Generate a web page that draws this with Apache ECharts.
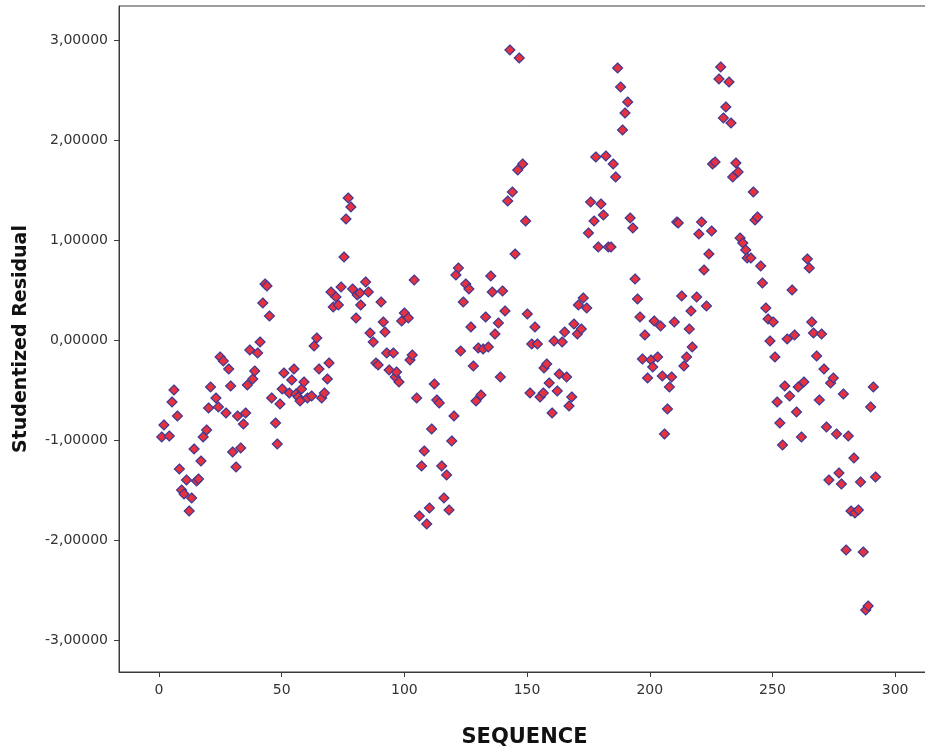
<!DOCTYPE html>
<html>
<head>
<meta charset="utf-8">
<script src="https://cdn.jsdelivr.net/npm/echarts@6/dist/echarts.min.js"></script>
<style>
  html, body { margin: 0; padding: 0; background: #fff; }
  #chart { width: 925px; height: 747px; }
</style>
</head>
<body>
<div id="chart"></div>
<script>
// values
const sequence = [
  1.1, 2, 4.2, 5.3, 6.1, 7.5, 8.3, 9.2, 10.2, 11.2, 12.3, 13.3, 14.3, 15.3, 16.1, 17.1, 18, 19.4, 20.2, 21,
  23.2, 24.2, 24.9, 26.2, 27.3, 28.4, 29.2, 30, 31.4, 32, 33.3, 34.4, 35.3, 36, 37, 38.2, 39, 40.2, 41.2, 42.3,
  43.2, 44, 45, 45.9, 47.5, 48.2, 49.3, 50.2, 50.9, 53.1, 54.1, 55, 55.8, 56.7, 57.5, 58.1, 59.1, 60.5, 62.2, 63.2,
  64.3, 65.2, 66.3, 67.4, 68.6, 69.3, 70.1, 71, 72.1, 73.1, 74.2, 75.4, 76.2, 77.1, 78.2, 78.9, 80.3, 80.8, 81.9, 82.2,
  84.2, 85.3, 86, 87.3, 88.4, 89.3, 90.5, 91.4, 92.1, 92.8, 93.8, 95.5, 96.3, 96.8, 97.8, 98.9, 100, 101.6, 102.3, 103.2,
  104, 105, 106.1, 107, 108.1, 109.1, 110.2, 111.1, 112.2, 113.2, 114.2, 115.2, 116.1, 117.2, 118.2, 119.3, 120.2, 121, 122, 122.9,
  124, 125, 126.3, 127.1, 128.1, 129.2, 130.1, 131.2, 132.1, 133.1, 134.2, 135.2, 135.8, 136.9, 138.3, 139.1, 140, 141, 142.1, 143,
  144, 145.1, 146.2, 146.8, 148.2, 149.4, 150.1, 151.2, 151.9, 153.2, 154.2, 155.3, 156.6, 156.9, 158, 159, 160.2, 161, 162.3, 163.1,
  164.3, 165.3, 166.1, 167.1, 168.2, 169.1, 170.5, 170.9, 172.1, 172.9, 174.3, 175, 175.9, 177.3, 178, 179, 180.1, 181.1, 182.1, 183.1,
  184.2, 185.1, 186.1, 186.9, 188.1, 188.9, 189.9, 191, 192, 193.1, 194, 195, 196, 197, 198, 199.1, 200.5, 201.2, 201.8, 203.2,
  204.4, 205.1, 206, 207.2, 208, 208.9, 210, 211, 211.6, 213, 213.9, 215, 216.1, 216.8, 217.3, 219.1, 220, 221.1, 222.1, 223.1,
  224.1, 225.2, 225.6, 226.6, 228.2, 228.9, 230, 231, 232.3, 233.1, 233.8, 235.1, 236, 236.8, 237.9, 239.1, 239.7, 241.2, 242.2, 242.9,
  243.9, 245.2, 245.9, 247.3, 248.2, 249, 250.3, 251, 251.9, 253, 254.1, 255, 256, 257, 258, 259, 259.8, 260.5, 261.8, 262.8,
  264.2, 265, 266, 266.7, 268, 269.1, 270, 271, 272, 273, 273.7, 274.8, 276.1, 277.1, 278.1, 278.9, 280, 280.9, 282, 283.2,
  283.6, 285, 285.9, 287, 288, 289, 290, 291.1, 292
];
const residual = [
  -0.97, -0.85, -0.96, -0.62, -0.50, -0.76, -1.29, -1.50, -1.54, -1.40, -1.71, -1.58, -1.09, -1.41, -1.39, -1.21, -0.97, -0.90, -0.68, -0.47,
  -0.58, -0.67, -0.17, -0.21, -0.73, -0.29, -0.46, -1.12, -1.27, -0.76, -1.08, -0.84, -0.73, -0.45, -0.10, -0.39, -0.31, -0.13, -0.02, 0.37,
  0.56, 0.54, 0.24, -0.58, -0.83, -1.04, -0.64, -0.49, -0.33, -0.53, -0.40, -0.29, -0.54, -0.57, -0.61, -0.49, -0.42, -0.58, -0.56, -0.06,
  0.02, -0.29, -0.58, -0.53, -0.39, -0.23, 0.48, 0.33, 0.43, 0.35, 0.53, 0.83, 1.21, 1.42, 1.33, 0.51, 0.22, 0.45, 0.47, 0.35,
  0.58, 0.48, 0.07, -0.02, -0.23, -0.25, 0.38, 0.18, 0.08, -0.13, -0.30, -0.13, -0.37, -0.32, -0.42, 0.19, 0.27, 0.22, -0.20, -0.15,
  0.60, -0.58, -1.76, -1.26, -1.11, -1.84, -1.68, -0.89, -0.44, -0.60, -0.63, -1.26, -1.58, -1.35, -1.70, -1.01, -0.76, 0.65, 0.72, -0.11,
  0.38, 0.56, 0.51, 0.13, -0.26, -0.61, -0.08, -0.55, -0.09, 0.23, -0.07, 0.64, 0.48, 0.06, 0.17, -0.37, 0.49, 0.29, 1.39, 2.90,
  1.48, 0.86, 1.70, 2.82, 1.76, 1.19, 0.26, -0.53, -0.04, 0.13, -0.04, -0.57, -0.53, -0.28, -0.24, -0.43, -0.73, -0.01, -0.51, -0.34,
  -0.02, 0.08, -0.37, -0.66, -0.57, 0.16, 0.06, 0.35, 0.11, 0.42, 0.32, 1.07, 1.38, 1.19, 1.83, 0.93, 1.36, 1.25, 1.84, 0.93,
  0.93, 1.76, 1.63, 2.72, 2.53, 2.10, 2.27, 2.38, 1.22, 1.12, 0.61, 0.41, 0.23, -0.19, 0.05, -0.38, -0.20, -0.27, 0.19, -0.17,
  0.14, -0.36, -0.94, -0.69, -0.47, -0.37, 0.18, 1.18, 1.17, 0.44, -0.26, -0.17, 0.11, 0.29, -0.07, 0.43, 1.06, 1.18, 0.70, 0.34,
  0.86, 1.09, 1.76, 1.78, 2.61, 2.73, 2.22, 2.33, 2.58, 2.17, 1.63, 1.77, 1.68, 1.02, 0.97, 0.90, 0.82, 0.82, 1.48, 1.20,
  1.23, 0.74, 0.57, 0.32, 0.21, -0.01, 0.18, -0.17, -0.62, -0.83, -1.05, -0.46, 0.01, -0.56, 0.50, 0.05, -0.72, -0.47, -0.97, -0.42,
  0.81, 0.72, 0.18, 0.07, -0.16, -0.60, 0.06, -0.29, -0.87, -1.40, -0.43, -0.38, -0.94, -1.33, -1.44, -0.54, -2.10, -0.96, -1.71, -1.18,
  -1.73, -1.70, -1.42, -2.12, -2.70, -2.66, -0.67, -0.47, -1.37
];
const xTicks = [0, 50, 100, 150, 200, 250, 300];
const yTicks = [-3, -2, -1, 0, 1, 2, 3];

const axisColor = '#3c3c3c';
const chart = echarts.init(document.getElementById('chart'));

chart.setOption({
    animation: false,
    grid: {
        left: 119,
        top: 6,
        width: 811,
        height: 666,
        outerBoundsMode: 'none',
        show: true,
        borderColor: axisColor,
        borderWidth: 1
    },
    xAxis: {
        type: 'value',
        min: -16.3,
        max: 314.2,
        name: 'SEQUENCE',
        nameLocation: 'middle',
        nameGap: 55,
        nameTextStyle: { fontFamily: 'DejaVu Sans', fontWeight: 'bold', fontSize: 21, color: '#111' },
        axisLine: { show: true, onZero: false, lineStyle: { color: axisColor, width: 1 } },
        axisTick: { show: true, inside: false, length: 5, customValues: xTicks, lineStyle: { color: axisColor } },
        axisLabel: {
            customValues: xTicks,
            margin: 11,
            fontFamily: 'DejaVu Sans',
            fontSize: 14,
            color: '#333'
        },
        splitLine: { show: false }
    },
    yAxis: {
        type: 'value',
        min: -3.32,
        max: 3.34,
        name: 'Studentized Residual',
        nameLocation: 'middle',
        nameGap: 88,
        nameRotate: 90,
        nameTextStyle: { fontFamily: 'DejaVu Sans', fontWeight: 'bold', fontSize: 19, color: '#111' },
        axisLine: { show: true, onZero: false, lineStyle: { color: axisColor, width: 1 } },
        axisTick: { show: true, inside: false, length: 5, customValues: yTicks, lineStyle: { color: axisColor } },
        axisLabel: {
            customValues: yTicks,
            margin: 11,
            fontFamily: 'DejaVu Sans',
            fontSize: 14,
            color: '#333',
            formatter: function (v) { return v.toFixed(5).replace('.', ','); }
        },
        splitLine: { show: false }
    },
    series: [
        {
            type: 'scatter',
            symbol: 'diamond',
            symbolSize: 10,
            data: sequence.map(function (s, i) { return [s, residual[i]]; }),
            itemStyle: {
                color: '#e8313e',
                borderColor: '#3d3a95',
                borderWidth: 1.2,
                opacity: 1
            }
        }
    ]
});
</script>
</body>
</html>
